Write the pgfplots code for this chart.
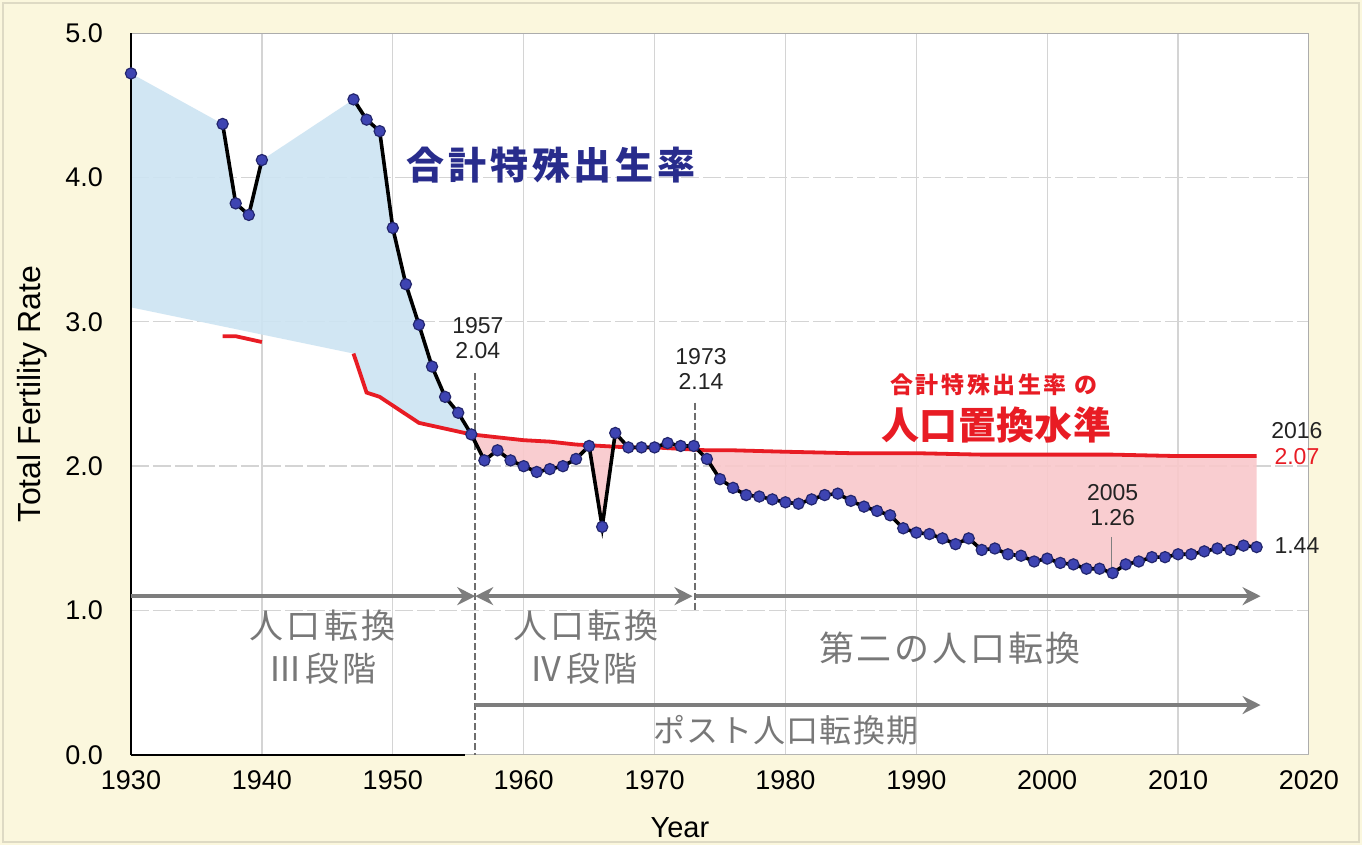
\documentclass[border=0pt]{standalone}
\usepackage{pgfplots}
\pgfplotsset{compat=1.18}
\usepackage{pgfplotstable}
\usepgfplotslibrary{fillbetween}
\usetikzlibrary{arrows.meta}
\usepackage{fontspec}
\setmainfont{Liberation Sans}
\newfontfamily\jp{Noto Sans CJK JP}

\definecolor{bgyel}{RGB}{251,247,221}
\definecolor{bgedge}{RGB}{222,218,196}
\definecolor{tfrblue}{RGB}{62,68,178}
\definecolor{tfredge}{RGB}{35,38,110}
\definecolor{repred}{RGB}{232,28,36}
\definecolor{navy}{RGB}{40,44,140}
\definecolor{arrgray}{RGB}{125,125,125}
\definecolor{txtgray}{RGB}{120,120,120}
\definecolor{dashgray}{RGB}{110,110,110}
\definecolor{fillblue}{RGB}{205,228,242}
\definecolor{fillpink}{RGB}{249,200,203}
\definecolor{gridc}{RGB}{212,212,212}
\definecolor{annot}{RGB}{35,35,35}

% Total fertility rate (nan = no data)
\pgfplotstableread{
year tfr
1930 4.72
1931 nan
1937 4.37
1938 3.82
1939 3.74
1940 4.12
1941 nan
1947 4.54
1948 4.40
1949 4.32
1950 3.65
1951 3.26
1952 2.98
1953 2.69
1954 2.48
1955 2.37
1956 2.22
1957 2.04
1958 2.11
1959 2.04
1960 2.00
1961 1.96
1962 1.98
1963 2.00
1964 2.05
1965 2.14
1966 1.58
1967 2.23
1968 2.13
1969 2.13
1970 2.13
1971 2.16
1972 2.14
1973 2.14
1974 2.05
1975 1.91
1976 1.85
1977 1.80
1978 1.79
1979 1.77
1980 1.75
1981 1.74
1982 1.77
1983 1.80
1984 1.81
1985 1.76
1986 1.72
1987 1.69
1988 1.66
1989 1.57
1990 1.54
1991 1.53
1992 1.50
1993 1.46
1994 1.50
1995 1.42
1996 1.43
1997 1.39
1998 1.38
1999 1.34
2000 1.36
2001 1.33
2002 1.32
2003 1.29
2004 1.29
2005 1.26
2006 1.32
2007 1.34
2008 1.37
2009 1.37
2010 1.39
2011 1.39
2012 1.41
2013 1.43
2014 1.42
2015 1.45
2016 1.44
}\tfrdata

% same series without the gaps, used only as the shading boundary
\pgfplotstableread{
year tfr
1930 4.72
1937 4.37
1938 3.82
1939 3.74
1940 4.12
1947 4.54
1948 4.40
1949 4.32
1950 3.65
1951 3.26
1952 2.98
1953 2.69
1954 2.48
1955 2.37
1956 2.22
1957 2.04
1958 2.11
1959 2.04
1960 2.00
1961 1.96
1962 1.98
1963 2.00
1964 2.05
1965 2.14
1966 1.58
1967 2.23
1968 2.13
1969 2.13
1970 2.13
1971 2.16
1972 2.14
1973 2.14
1974 2.05
1975 1.91
1976 1.85
1977 1.80
1978 1.79
1979 1.77
1980 1.75
1981 1.74
1982 1.77
1983 1.80
1984 1.81
1985 1.76
1986 1.72
1987 1.69
1988 1.66
1989 1.57
1990 1.54
1991 1.53
1992 1.50
1993 1.46
1994 1.50
1995 1.42
1996 1.43
1997 1.39
1998 1.38
1999 1.34
2000 1.36
2001 1.33
2002 1.32
2003 1.29
2004 1.29
2005 1.26
2006 1.32
2007 1.34
2008 1.37
2009 1.37
2010 1.39
2011 1.39
2012 1.41
2013 1.43
2014 1.42
2015 1.45
2016 1.44
}\tfrfill

% replacement level, pre-war segment
\pgfplotstableread{
year repl
1937 2.90
1938 2.90
1939 2.88
1940 2.86
}\replpre

% replacement level, 1930 value only used for the shading
\pgfplotstableread{
year repl
1930 3.10
1947 2.78
1948 2.51
1949 2.48
1950 2.42
1951 2.36
1952 2.30
1953 2.28
1954 2.26
1955 2.24
1956 2.22
1957 2.21
1958 2.20
1959 2.19
1960 2.18
1962 2.17
1964 2.15
1966 2.14
1968 2.13
1970 2.13
1972 2.12
1974 2.11
1976 2.11
1980 2.10
1985 2.09
1990 2.09
1995 2.08
2000 2.08
2005 2.08
2010 2.07
2016 2.07
}\repldata

\begin{document}
\begin{tikzpicture}
% paper colour around the plot area only (the plot area stays white underneath)
\fill[bgyel, even odd rule] (-65.5pt,-45pt) rectangle (615.5pt,377.5pt) (0pt,0pt) rectangle (589pt,361pt);
\draw[bgedge, line width=0.8pt] (-64pt,-43.5pt) rectangle (614pt,376pt);
\begin{axis}[
  at={(0,0)}, anchor=south west,
  scale only axis, width=589pt, height=361pt,
  xmin=1930, xmax=2020, ymin=0, ymax=5,
  xtick={1930,1940,...,2020}, ytick={0,1,2,3,4,5},
  clip=false,
  axis background/.style={fill=white},
  axis line style={draw=gray!65, line width=1pt},
  xmajorgrids, ymajorgrids,
  x grid style={gridc, line width=0.7pt},
  y grid style={gridc, line width=0.7pt, dash pattern=on 9pt off 2pt},
  tick pos=left, tick align=outside, major tick length=4.5pt,
  xtick style={black, line width=0.6pt},
  ytick style={draw=none},
  /pgf/number format/assume math mode=true,
  tick label style={font=\fontsize{13.5}{14}\selectfont, text=black},
  xticklabel style={/pgf/number format/1000 sep={}},
  yticklabel style={/pgf/number format/fixed, /pgf/number format/fixed zerofill, /pgf/number format/precision=1, xshift=-6pt},
  xlabel={Year}, ylabel={Total Fertility Rate},
  every axis x label/.style={at={(axis description cs:0.466,0)}, yshift=-36.5pt, anchor=center, font=\fontsize{14.5}{16}\selectfont},
  every axis y label/.style={at={(axis description cs:0,0.5)}, xshift=-49.5pt, anchor=center, rotate=90, font=\fontsize{16}{18}\selectfont},
]
% shading paths
\addplot[draw=none, name path=up, forget plot] table[x=year,y=tfr]{\tfrfill};
\addplot[draw=none, name path=lo, forget plot] table[x=year,y=repl]{\repldata};
\addplot[fillblue, draw=none, fill opacity=0.9] fill between[of=up and lo, soft clip={domain=1930:1956.2}];
\addplot[fillpink, draw=none, fill opacity=0.9] fill between[of=up and lo, soft clip={domain=1956.2:2016}];

% black base line segment
\draw[black, line width=1.2pt] (axis cs:1930,0) -- (axis cs:1955.5,0);
\draw[black, line width=1pt] (axis cs:1930,0) -- (axis cs:1930,5);

% dashed markers
\draw[dashgray, line width=0.9pt, dash pattern=on 3.5pt off 1.5pt] (axis cs:1956.3,2.645) -- (axis cs:1956.3,0);
\draw[dashgray, line width=0.9pt, dash pattern=on 3.5pt off 1.5pt] (axis cs:1973.1,2.44) -- (axis cs:1973.1,1.0);

% replacement level
\addplot[repred, line width=1.9pt, no marks] table[x=year,y=repl]{\replpre};
\addplot[repred, line width=1.9pt, no marks, restrict x to domain=1947:2016] table[x=year,y=repl]{\repldata};

% TFR
\addplot[black, line width=1.8pt, mark=*, mark size=2.8pt, unbounded coords=jump,
  mark options={fill=tfrblue, draw=tfredge, line width=0.6pt}] table[x=year,y=tfr]{\tfrdata};

% phase arrows
\draw[arrgray, line width=2pt, -{Stealth[length=9pt,width=9pt,inset=3pt]}] (axis cs:1930,1.10) -- (axis cs:1956.3,1.10);
\draw[arrgray, line width=2pt, {Stealth[length=9pt,width=9pt,inset=3pt]}-{Stealth[length=9pt,width=9pt,inset=3pt]}] (axis cs:1956.3,1.10) -- (axis cs:1972.9,1.10);
\draw[arrgray, line width=2pt, -{Stealth[length=9pt,width=9pt,inset=3pt]}] (axis cs:1973.2,1.10) -- (axis cs:2016.3,1.10);
\draw[arrgray, line width=2pt, -{Stealth[length=9pt,width=9pt,inset=3pt]}] (axis cs:1956.3,0.346) -- (axis cs:2016.3,0.346);

% phase labels
\node[txtgray, font=\jp\fontsize{17}{18}\selectfont\addfontfeature{LetterSpace=9}] at (axis cs:1944.63,0.893) {人口転換};
\node[txtgray, font=\jp\fontsize{17}{18}\selectfont\addfontfeature{LetterSpace=9}] at (axis cs:1944.63,0.596) {Ⅲ段階};
\node[txtgray, font=\jp\fontsize{17}{18}\selectfont\addfontfeature{LetterSpace=9}] at (axis cs:1964.76,0.893) {人口転換};
\node[txtgray, font=\jp\fontsize{17}{18}\selectfont\addfontfeature{LetterSpace=9}] at (axis cs:1964.6,0.596) {Ⅳ段階};
\node[txtgray, font=\jp\fontsize{17.5}{18}\selectfont\addfontfeature{LetterSpace=8}] at (axis cs:1992.57,0.741) {第二の人口転換};
\node[txtgray, font=\jp\fontsize{16}{17}\selectfont\addfontfeature{LetterSpace=4}] at (axis cs:1980.04,0.173) {ポスト人口転換期};

% titles
\node[navy, font=\jp\bfseries\fontsize{19}{20}\selectfont\addfontfeature{LetterSpace=10}] at (axis cs:1962.09,4.086) {合計特殊出生率};
\node[repred, font=\jp\bfseries\fontsize{11.5}{12}\selectfont\addfontfeature{LetterSpace=11}] at (axis cs:1995.93,2.562) {合計特殊出生率 の};
\node[repred, font=\jp\bfseries\fontsize{19}{20}\selectfont\addfontfeature{LetterSpace=1}] at (axis cs:1996.11,2.285) {人口置換水準};

% value annotations
\node[annot, font=\fontsize{11.5}{12.5}\selectfont, align=center] at (axis cs:1956.5,2.888) {1957\\2.04};
\node[annot, font=\fontsize{11.5}{12.5}\selectfont, align=center] at (axis cs:1973.55,2.673) {1973\\2.14};
\node[annot, font=\fontsize{11.5}{12.5}\selectfont, align=center] at (axis cs:2005,1.731) {2005\\1.26};
\draw[gray, line width=0.5pt] (axis cs:2004.95,1.51) -- (axis cs:2004.95,1.29);
\node[annot, font=\fontsize{11.5}{12.5}\selectfont] at (axis cs:2019.08,2.247) {2016};
\node[repred, font=\fontsize{11.5}{12.5}\selectfont] at (axis cs:2019.08,2.064) {2.07};
\node[annot, font=\fontsize{11.5}{12.5}\selectfont] at (axis cs:2019.08,1.452) {1.44};
\end{axis}
\pgfresetboundingbox
\path (-65.5pt,-45pt) rectangle (615.5pt,377.5pt);
\end{tikzpicture}
\end{document}
